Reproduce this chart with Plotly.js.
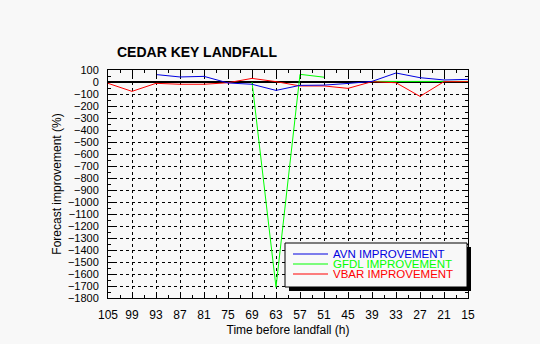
<!DOCTYPE html>
<html>
<head>
<meta charset="utf-8">
<script src="https://cdn.plot.ly/plotly-2.35.2.min.js"></script>
<style>html,body{margin:0;padding:0;background:#f8f8f8;}#chart{width:540px;height:344px;}</style>
</head>
<body>
<div id="chart"></div>
<script>
// Hours before landfall (x categories)
const hours = [105, 99, 93, 87, 81, 75, 69, 63, 57, 51, 45, 39, 33, 27, 21, 15];
// Forecast improvement (%) per model
const avn  = [null, null, 62, 42, 47, -8, -19, -70, -28, -26, -12, 5, 75, 36, 17, 22];
const gfdl = [null, null, null, null, null, null, 0, -1710, 64, 40, null, 5, 5, 0, 5, 5];
const vbar = [-11, -78, -11, -19, -19, -6, 30, 3, -33, -33, -53, 3, -6, -120, 3, 3];
const seriesNames = ['AVN IMPROVEMENT', 'GFDL IMPROVEMENT', 'VBAR IMPROVEMENT'];
const seriesColors = ['#0000e0', '#00ff00', '#ff0000'];

const W = 540, H = 344;
const M = {l: 108, r: 72, t: 70, b: 46};
const PW = W - M.l - M.r, PH = H - M.t - M.b;
const px2x = p => (p - M.l) / PW;
const px2y = p => (H - M.b - p) / PH;
const FONT = '"Liberation Sans", Arial, Helvetica, sans-serif';

const traces = [
  {x: hours, y: gfdl, name: seriesNames[1], line: {color: seriesColors[1], width: 1}},
  {x: hours, y: vbar, name: seriesNames[2], line: {color: seriesColors[2], width: 1}},
  {x: hours, y: avn,  name: seriesNames[0], line: {color: seriesColors[0], width: 1}}
].map(t => Object.assign({type: 'scatter', mode: 'lines', connectgaps: false, showlegend: false, hoverinfo: 'skip'}, t));

// manual legend (box with shadow)
const box = {x0: 285, x1: 467, y0: 243, y1: 287};
const shapes = [
  {type: 'rect', xref: 'paper', yref: 'paper', layer: 'above',
   x0: px2x(box.x0 + 4), x1: px2x(box.x1 + 4), y0: px2y(box.y0 + 4), y1: px2y(box.y1 + 4),
   fillcolor: '#000', line: {width: 0}},
  {type: 'rect', xref: 'paper', yref: 'paper', layer: 'above',
   x0: px2x(box.x0), x1: px2x(box.x1), y0: px2y(box.y0), y1: px2y(box.y1),
   fillcolor: '#f8f8f8', line: {color: '#000', width: 1}}
];
const annotations = [];
const order = [0, 1, 2];
order.forEach((k, i) => {
  const yy = 254 + i * 10;
  shapes.push({type: 'line', xref: 'paper', yref: 'paper', layer: 'above',
    x0: px2x(293), x1: px2x(328), y0: px2y(yy), y1: px2y(yy),
    line: {color: seriesColors[k], width: 1}});
  annotations.push({xref: 'paper', yref: 'paper', x: px2x(331), y: px2y(yy),
    xanchor: 'left', yanchor: 'middle', showarrow: false, text: seriesNames[k],
    font: {family: FONT, size: 11.5, color: seriesColors[k]}});
});

const layout = {
  width: W, height: H,
  margin: M,
  paper_bgcolor: '#f8f8f8',
  plot_bgcolor: '#f8f8f8',
  showlegend: false,
  font: {family: FONT, size: 12, color: '#000'},
  title: {text: '<b>CEDAR KEY LANDFALL</b>', xref: 'container', yref: 'container',
          x: 117 / W, xanchor: 'left', y: 1 - 52 / H, yanchor: 'middle',
          font: {family: FONT, size: 14, color: '#000'}},
  xaxis: {
    range: [105, 15], tick0: 15, dtick: 6,
    ticks: 'inside', ticklen: 6, tickcolor: '#000', tickwidth: 1,
    minor: {dtick: 3, ticks: 'inside', ticklen: 3, tickcolor: '#000', showgrid: false},
    showline: true, linecolor: '#000', linewidth: 1, mirror: 'allticks',
    showgrid: true, gridcolor: '#000', griddash: 'dot', gridwidth: 1,
    zeroline: false,
    tickfont: {family: FONT, size: 12, color: '#000'},
    ticklabelstandoff: 6,
    title: {text: 'Time before landfall (h)', font: {family: FONT, size: 12, color: '#000'}, standoff: 4}
  },
  yaxis: {
    range: [-1800, 100], tick0: 0, dtick: 100,
    ticks: 'inside', ticklen: 6, tickcolor: '#000', tickwidth: 1,
    minor: {dtick: 50, ticks: 'inside', ticklen: 3, tickcolor: '#000', showgrid: false},
    showline: true, linecolor: '#000', linewidth: 1, mirror: 'allticks',
    showgrid: true, gridcolor: '#000', griddash: 'dot', gridwidth: 1,
    zeroline: true, zerolinecolor: '#000', zerolinewidth: 1.5,
    tickfont: {family: FONT, size: 11, color: '#000'},
    ticklabelstandoff: 6,
    title: {text: 'Forecast improvement (%)', font: {family: FONT, size: 12, color: '#000'}, standoff: 3}
  },
  shapes: shapes,
  annotations: annotations
};

Plotly.newPlot('chart', traces, layout, {staticPlot: true, displayModeBar: false});
</script>
</body>
</html>
